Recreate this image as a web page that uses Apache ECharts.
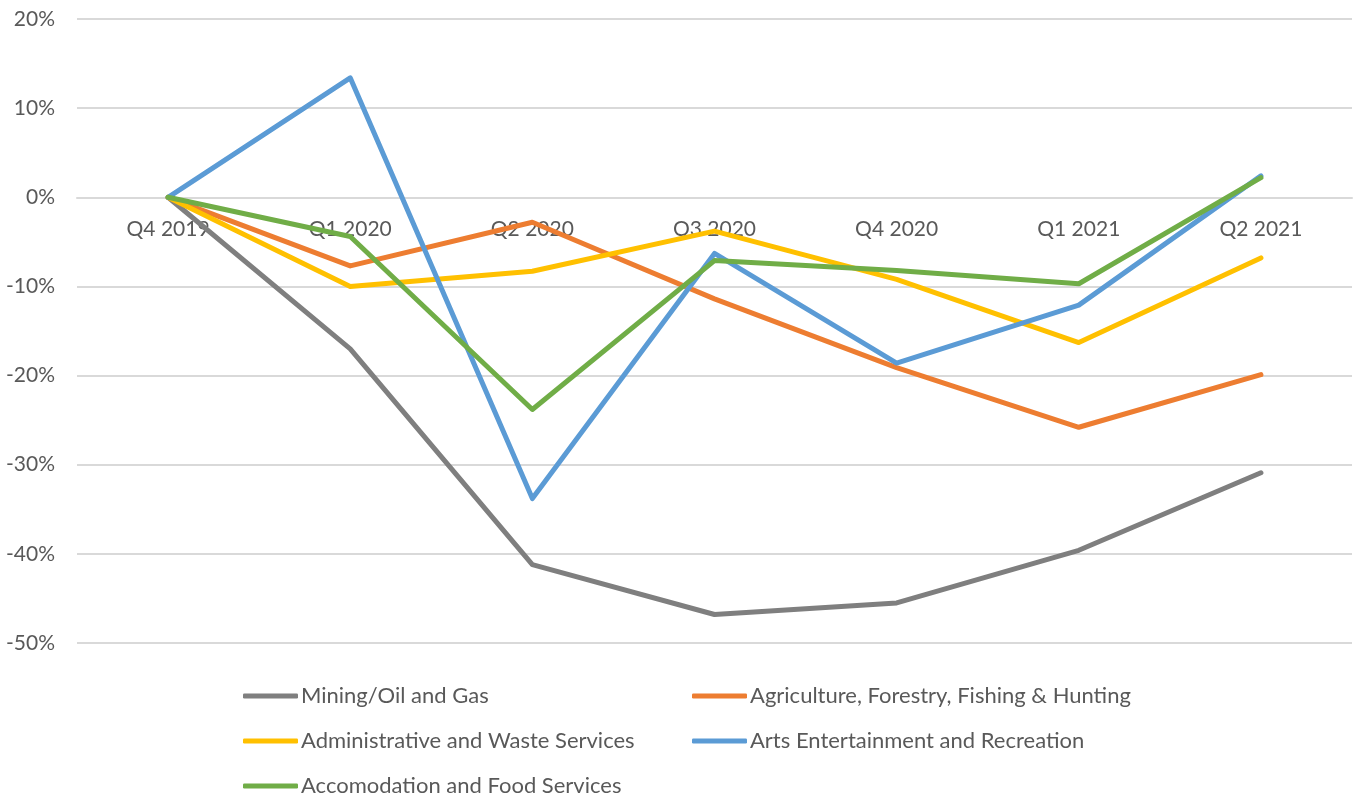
<!DOCTYPE html>
<html>
<head>
<meta charset="utf-8">
<script src="https://cdn.jsdelivr.net/npm/echarts@6/dist/echarts.min.js"></script>
<style>
  html, body { margin: 0; padding: 0; background: #fff; }
  #chart { width: 1356px; height: 798px; }
</style>
</head>
<body>
<div id="chart"></div>
<script>
// Quarter labels along the x axis
const quarters = ['Q4 2019', 'Q1 2020', 'Q2 2020', 'Q3 2020', 'Q4 2020', 'Q1 2021', 'Q2 2021'];

// Change relative to Q4 2019, in percent
const mining        = [0, -17.0, -41.2, -46.8, -45.5, -39.6, -30.9];
const agriculture   = [0,  -7.7,  -2.8, -11.4, -19.1, -25.8, -19.9];
const administrative= [0, -10.0,  -8.3,  -3.8,  -9.2, -16.3,  -6.8];
const arts          = [0,  13.4, -33.8,  -6.3, -18.6, -12.1,   2.4];
const accommodation = [0,  -4.4, -23.8,  -7.1,  -8.2,  -9.7,   2.2];

const seriesNames = [
  'Mining/Oil and Gas',
  'Agriculture, Forestry, Fishing & Hunting',
  'Administrative and Waste Services',
  'Arts Entertainment and Recreation',
  'Accomodation and Food Services'
];
const seriesValues = [mining, agriculture, administrative, arts, accommodation];
const seriesColors = ['#7F7F7F', '#ED7D31', '#FFC000', '#5B9BD5', '#70AD47'];

const FONT = 'Lato, "Open Sans", sans-serif';
const TEXT = '#595959';
const GRID = { left: 77, right: 4, top: 19, bottom: 155 };

const chart = echarts.init(document.getElementById('chart'));

const legendCommon = {
  orient: 'vertical',
  icon: 'roundRect',
  itemWidth: 55,
  itemHeight: 5,
  itemGap: 23,
  padding: 0,
  height: 120,
  textStyle: { fontFamily: FONT, fontSize: 22, lineHeight: 20, color: TEXT, padding: [0, 0, 0, -2] },
  selectedMode: false
};

chart.setOption({
  animation: false,
  backgroundColor: '#fff',
  grid: GRID,
  legend: [
    Object.assign({}, legendCommon, { left: 243, top: 685, data: [seriesNames[0], seriesNames[2], seriesNames[4]] }),
    Object.assign({}, legendCommon, { left: 692, top: 685, data: [seriesNames[1], seriesNames[3]] })
  ],
  xAxis: {
    type: 'category',
    data: quarters,
    boundaryGap: true,
    axisLine: { show: true, onZero: false, lineStyle: { color: '#D9D9D9', width: 2 } },
    axisTick: { show: false },
    axisLabel: { fontFamily: FONT, fontSize: 21, color: TEXT, margin: 21 }
  },
  yAxis: {
    type: 'value',
    min: -50,
    max: 20,
    interval: 10,
    axisLine: { show: false },
    axisTick: { show: false },
    axisLabel: { fontFamily: FONT, fontSize: 21, color: TEXT, margin: 22, formatter: v => v + '%' },
    splitLine: { lineStyle: { color: '#D9D9D9', width: 2 } }
  },
  series: seriesNames.map((name, i) => ({
    name,
    type: 'line',
    data: seriesValues[i],
    symbol: 'none',
    color: seriesColors[i],
    lineStyle: { width: 5, color: seriesColors[i], cap: 'round', join: 'round' },
    z: 2 + i
  }))
});

// The category axis sits on the 0% line: shift it up from the grid's bottom edge
const zeroY = chart.convertToPixel({ yAxisIndex: 0 }, 0);
const bottomY = chart.convertToPixel({ yAxisIndex: 0 }, -50);
chart.setOption({ xAxis: { offset: -(bottomY - zeroY) } });
</script>
</body>
</html>
